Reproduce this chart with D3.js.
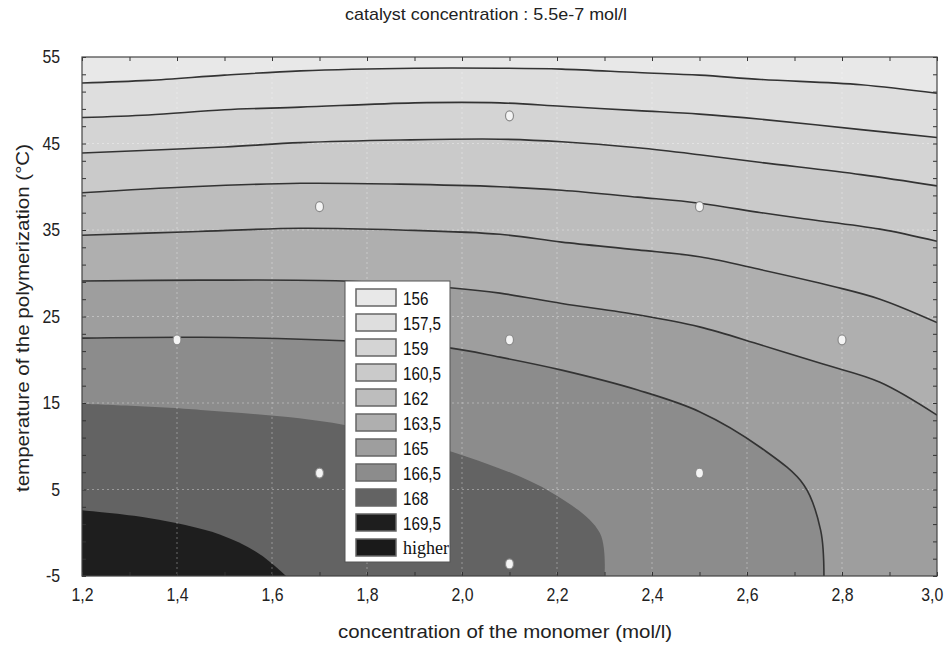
<!DOCTYPE html>
<html lang="en">
<head>
<meta charset="UTF-8">
<title>Contour plot</title>
<style>
  body { margin: 0; background: #fff; }
  svg { display: block; font-family: "Liberation Sans", Arial, sans-serif; }
</style>
</head>
<body>
<svg id="chart" width="945" height="645"></svg>
<script src="https://cdn.jsdelivr.net/npm/d3@7"></script>
<script>
// upper bound of each filled band, as listed in the legend
const levels = [156, 157.5, 159, 160.5, 162, 163.5, 165, 166.5, 168]
const legendLabels = ["156", "157,5", "159", "160,5", "162", "163,5", "165", "166,5", "168", "169,5", "higher"]
const bandColors = ["#e8e8e8", "#dedede", "#d4d4d4", "#cacaca", "#bdbdbd", "#afafaf", "#9e9e9e", "#8c8c8c", "#636363", "#1e1e1e", "#1a1a1a"]

// contour lines: [monomer (mol/l), temperature (°C)]
const c156 = [[1.2, 52.0], [1.34, 52.3], [1.5, 52.9], [1.66, 53.4], [1.9, 53.7], [2.08, 53.7], [2.21, 53.6], [2.37, 53.2], [2.5, 52.9], [2.63, 52.4], [2.84, 51.8], [3.0, 50.8]]
const c157_5 = [[1.2, 48.0], [1.34, 48.3], [1.5, 48.9], [1.66, 49.2], [1.9, 49.7], [2.08, 49.7], [2.21, 49.3], [2.37, 48.8], [2.5, 48.4], [2.63, 47.8], [2.84, 46.6], [3.0, 45.7]]
const c159 = [[1.2, 43.9], [1.5, 44.6], [1.66, 45.1], [1.87, 45.4], [2.08, 45.5], [2.21, 45.2], [2.37, 44.5], [2.5, 43.7], [2.63, 42.8], [2.84, 41.4], [3.0, 40.1]]
const c160_5 = [[1.2, 39.3], [1.43, 40.0], [1.66, 40.4], [1.87, 40.3], [2.08, 40.0], [2.21, 39.6], [2.37, 38.8], [2.5, 38.1], [2.63, 37.0], [2.72, 36.3], [2.88, 35.1], [3.0, 33.7]]
const c162 = [[1.2, 34.4], [1.43, 34.8], [1.66, 35.2], [1.87, 35.0], [2.08, 34.5], [2.21, 33.6], [2.37, 32.7], [2.5, 31.9], [2.63, 30.4], [2.78, 28.5], [2.88, 27.0], [3.0, 24.3]]
const c163_5 = [[1.2, 29.1], [1.45, 29.2], [1.75, 29.1], [1.98, 28.3], [2.08, 27.7], [2.21, 26.5], [2.37, 25.2], [2.5, 23.8], [2.63, 21.7], [2.76, 19.5], [2.88, 17.4], [3.0, 13.6]]
const c165 = [[1.2, 22.5], [1.45, 22.6], [1.75, 22.2], [1.97, 21.4], [2.08, 20.3], [2.21, 18.8], [2.37, 16.5], [2.5, 14.0], [2.63, 9.8], [2.72, 5.5], [2.755, 0.3], [2.762, -5]]
const c166_5 = [[1.2, 14.9], [1.45, 14.2], [1.75, 12.5], [2.01, 8.8], [2.19, 4.6], [2.29, 0.0], [2.3, -5]]
const c168 = [[1.2, 2.6], [1.34, 1.7], [1.49, -0.2], [1.575, -2.5], [1.63, -5]]
const contourLines = [c156, c157_5, c159, c160_5, c162, c163_5, c165, c166_5, c168]

// experimental design points
const pointX = [1.4, 1.7, 1.7, 2.1, 2.1, 2.1, 2.5, 2.5, 2.8]
const pointY = [22.3, 6.9, 37.7, 48.2, 22.3, -3.6, 37.7, 6.9, 22.3]

const xTicks = [1.2, 1.4, 1.6, 1.8, 2.0, 2.2, 2.4, 2.6, 2.8, 3.0]
const yTicks = [-5, 5, 15, 25, 35, 45, 55]

const svg = d3.select('#chart')
const plot = {left: 82, right: 937, top: 57, bottom: 576}

const x = d3.scaleLinear().domain([1.2, 3.0]).range([plot.left, plot.right])
const y = d3.scaleLinear().domain([-5, 55]).range([plot.bottom, plot.top])

svg.append('clipPath').attr('id', 'clip')
  .append('rect')
  .attr('x', plot.left).attr('y', plot.top)
  .attr('width', plot.right - plot.left).attr('height', plot.bottom - plot.top)

const g = svg.append('g').attr('clip-path', 'url(#clip)')

// -------- BANDS --------
g.append('rect')
  .attr('x', plot.left).attr('y', plot.top)
  .attr('width', plot.right - plot.left).attr('height', plot.bottom - plot.top)
  .attr('fill', bandColors[0])

const line = d3.line()
  .x(d => x(d[0]))
  .y(d => y(d[1]))
  .curve(d3.curveCatmullRom.alpha(0.5))

// region above each level: the curve, closed round the lower left corner
function regionPath(pts) {
  const last = pts[pts.length - 1]
  const corners = last[0] >= 3.0 ? [[3.0, -5], [1.2, -5]] : [[1.2, -5]]
  return line(pts) + corners.map(c => `L${x(c[0])},${y(c[1])}`).join('') + 'Z'
}

g.selectAll('path.band')
  .data(contourLines)
  .join('path')
  .attr('class', 'band')
  .attr('d', d => regionPath(d))
  .attr('fill', (d, i) => bandColors[i + 1])

// dotted grid
g.selectAll('line.gx')
  .data(xTicks.slice(1, -1))
  .join('line')
  .attr('x1', d => x(d)).attr('x2', d => x(d))
  .attr('y1', plot.top).attr('y2', plot.bottom)
  .attr('stroke', '#ffffff').attr('stroke-opacity', 0.35)
  .attr('stroke-dasharray', '2,3')
g.selectAll('line.gy')
  .data(yTicks.slice(1, -1))
  .join('line')
  .attr('y1', d => y(d)).attr('y2', d => y(d))
  .attr('x1', plot.left).attr('x2', plot.right)
  .attr('stroke', '#ffffff').attr('stroke-opacity', 0.35)
  .attr('stroke-dasharray', '2,3')

// contour lines (the two darkest boundaries show only as a change of shade)
g.selectAll('path.cline')
  .data(contourLines.slice(0, 7))
  .join('path')
  .attr('class', 'cline')
  .attr('d', d => line(d))
  .attr('fill', 'none')
  .attr('stroke', '#333')
  .attr('stroke-width', 1.6)

// design points
g.selectAll('ellipse')
  .data(pointX.map((v, i) => [v, pointY[i]]))
  .join('ellipse')
  .attr('cx', d => x(d[0]))
  .attr('cy', d => y(d[1]))
  .attr('rx', 4).attr('ry', 5)
  .attr('fill', '#f4f4f4')
  .attr('stroke', '#8a8a8a')
  .attr('stroke-width', 1.2)

// -------- AXES --------
const minorX = d3.range(12, 31).map(v => v / 10)
const minorY = d3.range(-5, 56, 2)

function inward(sel) {
  sel.select('.domain').remove()
  sel.selectAll('line').attr('stroke', '#333')
}
svg.append('g').attr('transform', `translate(0,${plot.bottom})`)
  .call(d3.axisBottom(x).tickValues(minorX).tickSize(-4).tickFormat('')).call(inward)
svg.append('g').attr('transform', `translate(0,${plot.top})`)
  .call(d3.axisTop(x).tickValues(minorX).tickSize(-4).tickFormat('')).call(inward)
svg.append('g').attr('transform', `translate(${plot.left},0)`)
  .call(d3.axisLeft(y).tickValues(minorY).tickSize(-4).tickFormat('')).call(inward)
svg.append('g').attr('transform', `translate(${plot.right},0)`)
  .call(d3.axisRight(y).tickValues(minorY).tickSize(-4).tickFormat('')).call(inward)

const comma = d => d3.format('.1f')(d).replace('.', ',')

const xAxis = svg.append('g').attr('transform', `translate(0,${plot.bottom})`)
  .call(d3.axisBottom(x).tickValues(xTicks).tickSize(0).tickPadding(12).tickFormat(comma))
xAxis.select('.domain').remove()
xAxis.selectAll('text')
  .style('font-size', '18px').attr('fill', '#222')
  .attr('transform', 'scale(0.88,1)')
xAxis.selectAll('text').filter(d => d === 3.0).attr('dx', -6)

const yAxis = svg.append('g').attr('transform', `translate(${plot.left},0)`)
  .call(d3.axisLeft(y).tickValues(yTicks).tickSize(0).tickPadding(25).tickFormat(d => String(d)))
yAxis.select('.domain').remove()
yAxis.selectAll('text')
  .style('font-size', '18px').attr('fill', '#222')
  .attr('transform', 'scale(0.88,1)')

// frame
svg.append('rect')
  .attr('x', plot.left).attr('y', plot.top)
  .attr('width', plot.right - plot.left).attr('height', plot.bottom - plot.top)
  .attr('fill', 'none').attr('stroke', '#444').attr('stroke-width', 1.2)

// -------- TITLES --------
svg.append('text')
  .attr('x', 486).attr('y', 20)
  .attr('text-anchor', 'middle')
  .attr('textLength', 282).attr('lengthAdjust', 'spacingAndGlyphs')
  .style('font-size', '17px').attr('fill', '#222')
  .text('catalyst concentration : 5.5e-7 mol/l')

svg.append('text')
  .attr('x', 505).attr('y', 638)
  .attr('text-anchor', 'middle')
  .attr('textLength', 334).attr('lengthAdjust', 'spacingAndGlyphs')
  .style('font-size', '19px').attr('fill', '#222')
  .text('concentration of the monomer (mol/l)')

svg.append('text')
  .attr('transform', 'translate(29,318) rotate(-90)')
  .attr('text-anchor', 'middle')
  .attr('textLength', 348).attr('lengthAdjust', 'spacingAndGlyphs')
  .style('font-size', '19px').attr('fill', '#222')
  .text('temperature of the polymerization (°C)')

// -------- LEGEND --------
const legend = svg.append('g').attr('transform', 'translate(345,281)')
legend.append('rect')
  .attr('width', 105).attr('height', 281)
  .attr('fill', '#fff').attr('stroke', '#555').attr('stroke-width', 1)

const item = legend.selectAll('g.item')
  .data(legendLabels)
  .join('g')
  .attr('class', 'item')
  .attr('transform', (d, i) => `translate(11,${8 + i * 25})`)
item.append('rect')
  .attr('width', 40).attr('height', 17)
  .attr('fill', (d, i) => bandColors[i])
  .attr('stroke', '#666').attr('stroke-width', 1.5)
item.append('text')
  .attr('transform', (d, i) => i === legendLabels.length - 1 ? 'translate(47,15)' : 'translate(47,16) scale(0.8,1)')
  .style('font-family', (d, i) => i === legendLabels.length - 1 ? '"Liberation Serif", serif' : null)
  .style('font-size', (d, i) => i === legendLabels.length - 1 ? '18px' : '19px')
  .attr('fill', '#111')
  .text(d => d)
</script>
</body>
</html>
